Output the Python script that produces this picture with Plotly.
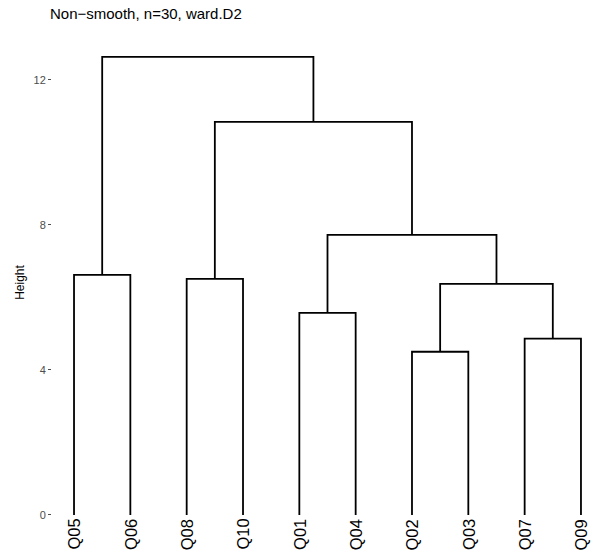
import plotly.graph_objects as go

# Leaf order as drawn
labels = ["Q05", "Q06", "Q08", "Q10", "Q01", "Q04", "Q02", "Q03", "Q07", "Q09"]
# Merges: negative = leaf index (1-based in labels), positive = earlier merge step (1-based)
merge_left = [-1, -3, -5, -7, -9, 4, 3, 2, 1]
merge_right = [-2, -4, -6, -8, -10, 5, 6, 7, 8]
merge_height = [6.62, 6.51, 5.57, 4.50, 4.86, 6.37, 7.72, 10.84, 12.63]

title_text = "Non\u2212smooth, n=30, ward.D2"
y_title = "Height"
y_ticks = [0, 4, 8, 12]

xs, ys = [], []
node_x, node_h = {}, {}

def pos(ref):
    if ref < 0:
        return float(-ref), 0.0
    return node_x[ref], node_h[ref]

for i, (a, b, h) in enumerate(zip(merge_left, merge_right, merge_height), start=1):
    xa, ha = pos(a)
    xb, hb = pos(b)
    xs += [xa, xa, xb, xb, None]
    ys += [ha, h, h, hb, None]
    node_x[i] = (xa + xb) / 2
    node_h[i] = h

fig = go.Figure()
fig.add_trace(go.Scatter(x=xs, y=ys, mode="lines",
                         line=dict(color="black", width=1.8),
                         hoverinfo="skip", showlegend=False))

for i, lab in enumerate(labels, start=1):
    fig.add_annotation(x=i, y=-0.06, text=lab, textangle=-90, showarrow=False,
                       xanchor="center", yanchor="top",
                       font=dict(family="Liberation Sans, Arial", size=16.5, color="black"))

fig.add_annotation(x=-52/543 + 20/543, xref="paper", y=6.4, yref="y", text=y_title,
                   textangle=-90, showarrow=False, xanchor="center", yanchor="middle",
                   font=dict(family="Liberation Sans, Arial", size=12, color="black"))

fig.update_layout(
    width=595, height=553,
    margin=dict(l=52, r=0, t=29, b=0),
    plot_bgcolor="white", paper_bgcolor="white",
    title=dict(text=title_text, x=50/595, xanchor="left", y=1 - 14/553, yanchor="middle",
               font=dict(family="Liberation Sans, Arial", size=15, color="black")),
    xaxis=dict(range=[0.609, 10.249], showgrid=False, zeroline=False,
               showticklabels=False, ticks="", showline=False),
    yaxis=dict(range=[-1.05, 13.4], showgrid=False, zeroline=False, showline=False,
               tickvals=y_ticks, ticktext=[f"{v}" for v in y_ticks],
               ticks="outside", ticklen=3, tickcolor="#4d4d4d", tickwidth=1,
               tickfont=dict(family="Liberation Sans, Arial", size=11, color="#4d4d4d")),
)

fig.write_html("out.html")
